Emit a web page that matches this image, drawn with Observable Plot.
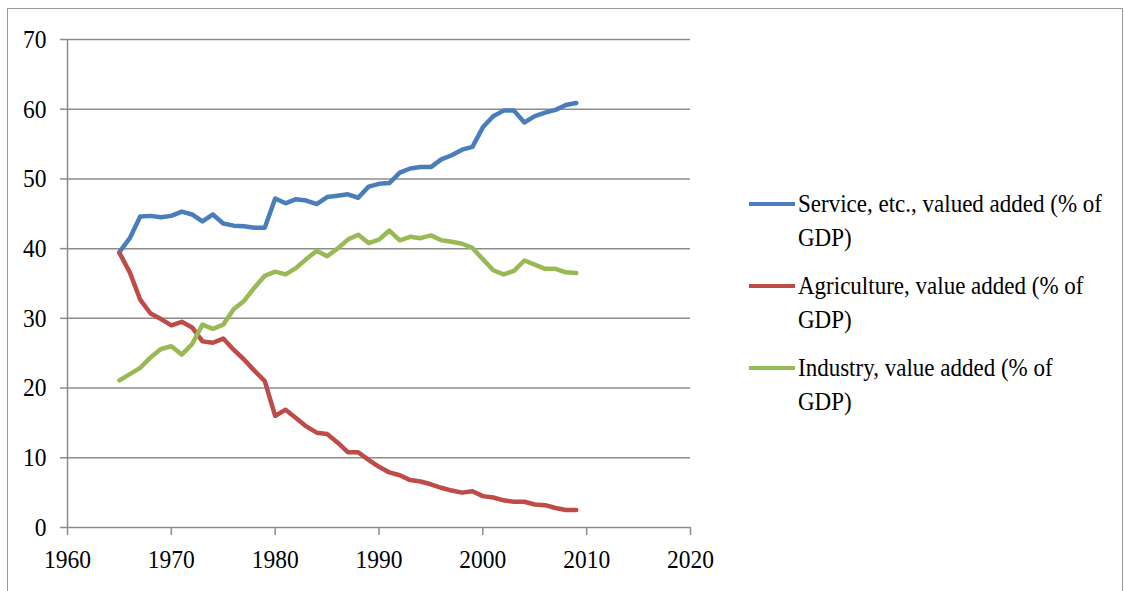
<!DOCTYPE html>
<html>
<head>
<meta charset="utf-8">
<script src="https://cdn.jsdelivr.net/npm/d3@7"></script>
<script src="https://cdn.jsdelivr.net/npm/@observablehq/plot@0.6"></script>
<style>
  html, body { margin: 0; padding: 0; background: #fff; }
  #wrap { position: relative; width: 1125px; height: 591px; overflow: hidden; background: #fff; }
  #frame { position: absolute; left: 7px; top: 8px; width: 1116px; height: 700px; border: 1.5px solid #9a9a9a; box-sizing: border-box; pointer-events: none; }
  #chart { position: absolute; left: 0; top: 0; }
  #legend { position: absolute; left: 749px; top: 187px; font-size: 26px; line-height: 34px; color: #000; }
  .item { position: relative; height: 68px; margin-bottom: 14px; }
  .sw { position: absolute; left: 0; top: 15px; width: 46px; height: 4px; }
  .txt { position: absolute; left: 49px; top: 0; white-space: nowrap; transform-origin: left top; }
</style>
</head>
<body>
<div id="wrap">
  <div id="chart"></div>
  <div id="legend"></div>
  <div id="frame"></div>
</div>
<script>
const years = [1965,1966,1967,1968,1969,1970,1971,1972,1973,1974,1975,1976,1977,1978,1979,1980,1981,1982,1983,1984,1985,1986,1987,1988,1989,1990,1991,1992,1993,1994,1995,1996,1997,1998,1999,2000,2001,2002,2003,2004,2005,2006,2007,2008,2009];
const service = [39.5,41.5,44.6,44.7,44.5,44.7,45.3,44.9,43.9,44.9,43.6,43.3,43.2,43.0,43.0,47.2,46.5,47.1,46.9,46.4,47.4,47.6,47.8,47.3,48.9,49.3,49.4,50.9,51.5,51.7,51.7,52.8,53.4,54.2,54.6,57.4,59.0,59.8,59.8,58.1,59.0,59.5,59.9,60.6,60.9];
const agriculture = [39.4,36.6,32.7,30.7,29.9,29.0,29.5,28.7,26.7,26.5,27.1,25.5,24.1,22.5,21.0,16.0,16.9,15.7,14.5,13.6,13.4,12.2,10.8,10.8,9.7,8.7,7.9,7.5,6.8,6.6,6.2,5.7,5.3,5.0,5.2,4.5,4.3,3.9,3.7,3.7,3.3,3.2,2.8,2.5,2.5];
const industry = [21.1,22.0,22.9,24.4,25.6,26.0,24.8,26.3,29.1,28.5,29.1,31.3,32.5,34.4,36.1,36.7,36.3,37.2,38.5,39.7,38.9,40.0,41.3,42.0,40.8,41.3,42.6,41.2,41.7,41.5,41.9,41.2,41.0,40.7,40.1,38.5,36.9,36.3,36.8,38.3,37.7,37.1,37.1,36.6,36.5];
const seriesNames = ["Service, etc., valued added (% of\nGDP)", "Agriculture, value added (% of\nGDP)", "Industry, value added (% of\nGDP)"];
const seriesColors = ["#4a7ebb", "#be4b48", "#98b954"];
const xTicks = [1960,1970,1980,1990,2000,2010,2020];
const yTicks = [0,10,20,30,40,50,60,70];

// pick an installed serif face
const ctx = document.createElement("canvas").getContext("2d");
function w(font, s) { ctx.font = font; return ctx.measureText(s).width; }
const probe = "Service, etc., valued added (% of 1960";
let fam = "serif";
for (const f of ["Liberation Serif", "DejaVu Serif", "Noto Serif", "Times New Roman", "FreeSerif"]) {
  if (w(`26px "${f}", monospace`, probe) !== w("26px monospace", probe)) { fam = `"${f}"`; break; }
}
const fontStack = `${fam}, serif`;
const tickScale = Math.min(1, 47 / w(`26px ${fontStack}`, "1960"));
const legendScale = Math.min(1, 304 / w(`26px ${fontStack}`, "Service, etc., valued added (% of"));

const seriesValues = [service, agriculture, industry];
const rows = [];
seriesValues.forEach((vals, s) => vals.forEach((v, i) => rows.push({year: years[i], value: v, series: seriesNames[s]})));

const gridColor = "#8c8c8c";
const plot = Plot.plot({
  width: 740,
  height: 591,
  marginLeft: 67,
  marginRight: 50,
  marginTop: 39,
  marginBottom: 64,
  style: { fontFamily: fontStack, fontSize: "26px", color: "#000", background: "transparent" },
  x: { domain: [1960, 2020], ticks: xTicks, tickFormat: d => String(d), label: null },
  y: { domain: [0, 70], ticks: yTicks, label: null },
  color: { domain: seriesNames, range: seriesColors },
  marks: [
    Plot.ruleY(yTicks, { stroke: gridColor, strokeWidth: 1.5 }),
    Plot.ruleX([xTicks[0]], { stroke: gridColor, strokeWidth: 1.5 }),
    Plot.axisY({ ticks: yTicks, tickSize: 7, tickPadding: 14, stroke: gridColor, strokeWidth: 1.5, strokeOpacity: 1, label: null }),
    Plot.axisX({ ticks: xTicks, tickSize: 8, tickPadding: 14, stroke: gridColor, strokeWidth: 1.5, strokeOpacity: 1, tickFormat: d => String(d), label: null }),
    Plot.line(rows, { x: "year", y: "value", z: "series", stroke: "series", strokeWidth: 4.5, strokeLinejoin: "round", strokeLinecap: "round" })
  ]
});
document.getElementById("chart").appendChild(plot);

plot.querySelectorAll("text").forEach(t => {
  const tr = t.getAttribute("transform");
  if (tr) {
    t.setAttribute("transform", tr + ` scale(${tickScale},1)`);
  } else {
    const x = +t.getAttribute("x") || 0;
    t.setAttribute("transform", `translate(${x},0) scale(${tickScale},1) translate(${-x},0)`);
  }
});

const legend = document.getElementById("legend");
legend.style.fontFamily = fontStack;
seriesNames.forEach((name, i) => {
  const item = document.createElement("div");
  item.className = "item";
  const sw = document.createElement("div");
  sw.className = "sw";
  sw.style.background = seriesColors[i];
  const txt = document.createElement("div");
  txt.className = "txt";
  txt.style.transform = `scaleX(${legendScale})`;
  name.split("\n").forEach((line, j) => {
    if (j) txt.appendChild(document.createElement("br"));
    txt.appendChild(document.createTextNode(line));
  });
  item.appendChild(sw);
  item.appendChild(txt);
  legend.appendChild(item);
});
</script>
</body>
</html>
